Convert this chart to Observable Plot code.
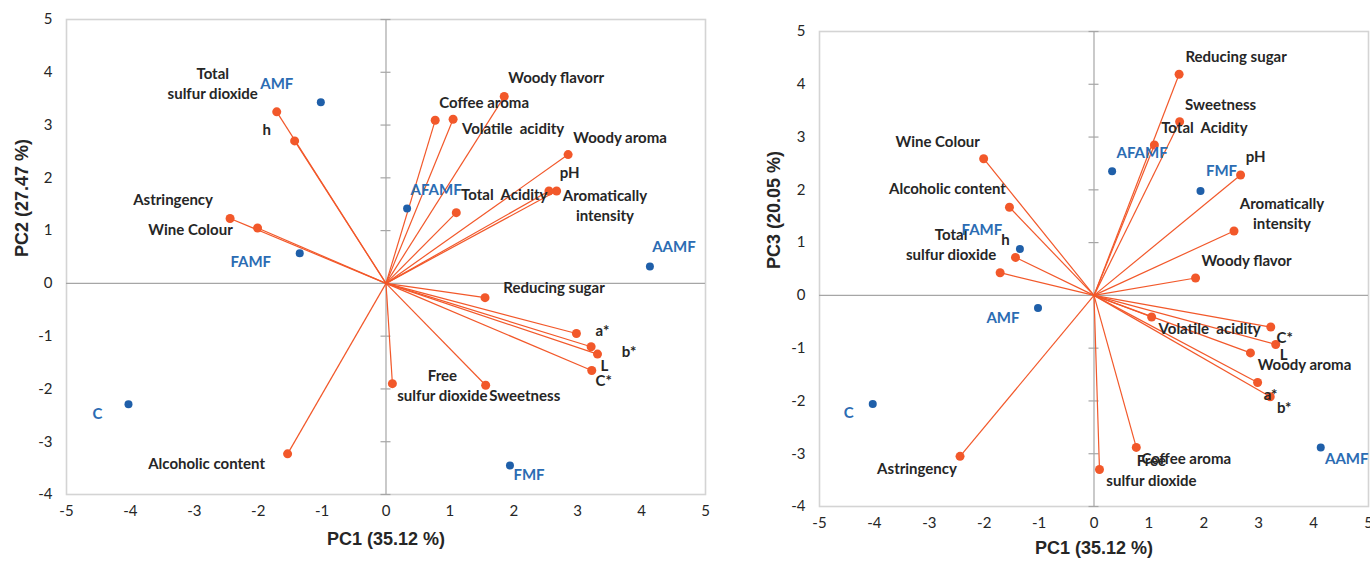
<!DOCTYPE html>
<html><head><meta charset="utf-8">
<script src="https://cdn.jsdelivr.net/npm/d3@7"></script>
<script src="https://cdn.jsdelivr.net/npm/@observablehq/plot@0.6"></script>
<style>
body{margin:0;background:#fff;width:1370px;height:562px;position:relative;overflow:hidden}
#left{position:absolute;left:0;top:0}
#right{position:absolute;left:740px;top:0}
svg{overflow:visible}
</style>
</head><body><div id="left"></div><div id="right"></div>
<script>
// ---- data ----
const variables = ["Total sulfur dioxide","h","Astringency","Wine Colour","Alcoholic content","Woody flavor","Coffee aroma","Volatile acidity","Woody aroma","pH","Total Acidity","Aromatically intensity","Reducing sugar","a*","b*","L","C*","Free sulfur dioxide","Sweetness"];
const varLabelsPC2 = ["Total\nsulfur dioxide","h","Astringency","Wine Colour","Alcoholic content","Woody flavorr","Coffee aroma","Volatile  acidity","Woody aroma","pH","Total  Acidity","Aromatically\nintensity","Reducing sugar","a*","b*","L","C*","Free\nsulfur dioxide","Sweetness"];
const varLabelsPC3 = ["Total\nsulfur dioxide","h","Astringency","Wine Colour","Alcoholic content","Woody flavor","Coffee aroma","Volatile  acidity","Woody aroma","pH","Total  Acidity","Aromatically\nintensity","Reducing sugar","a*","b*","L","C*","Free\nsulfur dioxide","Sweetness"];
const varPC1 = [-1.71,-1.43,-2.44,-2.01,-1.54,1.85,0.77,1.05,2.85,2.67,1.10,2.55,1.55,2.98,3.21,3.31,3.22,0.10,1.56];
const varPC2 = [3.25,2.70,1.23,1.05,-3.23,3.54,3.09,3.11,2.44,1.75,1.34,1.75,-0.27,-0.95,-1.20,-1.34,-1.65,-1.90,-1.93];
const varPC3 = [0.43,0.72,-3.05,2.59,1.67,0.33,-2.88,-0.41,-1.09,2.28,2.85,1.22,4.19,-1.65,-1.92,-0.93,-0.60,-3.30,3.29];

const samples = ["AMF","AFAMF","FAMF","AAMF","C","FMF"];
const samplePC1 = [-1.02,0.33,-1.35,4.13,-4.03,1.94];
const samplePC2 = [3.43,1.42,0.57,0.32,-2.29,-3.45];
const samplePC3 = [-0.24,2.35,0.88,-2.88,-2.06,1.98];

const xTicks = [-5,-4,-3,-2,-1,0,1,2,3,4,5];
const yTicks = [-4,-3,-2,-1,0,1,2,3,4,5];
const xTitle = "PC1 (35.12 %)";
const yTitlePC2 = "PC2 (27.47 %)";
const yTitlePC3 = "PC3 (20.05 %)";

// ---- label offsets (pixels, style only) ----
const varOffPC2 = {"Total sulfur dioxide":[-64,-28],"h":[-28,-11],"Astringency":[-57,-18],"Wine Colour":[-67,2],"Alcoholic content":[-81,10],"Woody flavor":[52,-18],"Coffee aroma":[49,-17],"Volatile acidity":[60,10],"Woody aroma":[52,-17],"pH":[13,-18],"Total Acidity":[48,-18],"Aromatically intensity":[56,15],"Reducing sugar":[69,-10],"a*":[26,-2],"b*":[38,5],"L":[7,12],"C*":[12,11],"Free sulfur dioxide":[50,2],"Sweetness":[39,11]};
const sampOffPC2 = {"AMF":[-44,-17],"AFAMF":[29,-17],"FAMF":[-49,10],"AAMF":[24,-18],"C":[-31,11],"FMF":[19,11]};
const varOffPC3 = {"Total sulfur dioxide":[-49,-27.5],"h":[-10,-17],"Astringency":[-43,13],"Wine Colour":[-46,-17],"Alcoholic content":[-62,-18],"Woody flavor":[51,-17],"Coffee aroma":[50,12],"Volatile acidity":[58,12],"Woody aroma":[54,12],"pH":[15,-18],"Total Acidity":[50,-17],"Aromatically intensity":[48,-17],"Reducing sugar":[57,-17],"a*":[13,13],"b*":[14,11],"L":[8,11],"C*":[14,11],"Free sulfur dioxide":[52,2],"Sweetness":[41,-17]};
const sampOffPC3 = {"AMF":[-35,12],"AFAMF":[30,-17],"FAMF":[-38,-17],"AAMF":[26,13],"C":[-24,11],"FMF":[21,-18]};

const ORANGE = "#F2582A", BLUE = "#1F5FA9", BLUE_TXT = "#2B6CB3", TXT = "#262626";
const AXIS = "#a6a6a6", FRAME = "#d4d4d4";
const FONT = "Lato, 'Open Sans', sans-serif";
const TITLE_FONT = "'Liberation Sans', Arial, sans-serif";
const LABEL_SIZE = 15, DY_SHIFT = -1.5;

function biplot({yVals, yLabels, sampY, varOff, sampOff, yTitle, width, mL, mR, mT, mB, xTitleDy, yTitleDx}) {
  const vars = variables.map((name, i) => ({name, label: yLabels[i], x: varPC1[i], y: yVals[i]}));
  const samps = samples.map((name, i) => ({name, x: samplePC1[i], y: sampY[i]}));
  const labelMarks = vars.map(d => Plot.text([d], {
    x: "x", y: "y", text: "label", dx: varOff[d.name][0], dy: varOff[d.name][1] + DY_SHIFT,
    fontFamily: FONT, fontWeight: "bold", fontSize: LABEL_SIZE, fill: TXT, lineHeight: 1.33
  }));
  const sampLabelMarks = samps.map(d => Plot.text([d], {
    x: "x", y: "y", text: "name", dx: sampOff[d.name][0], dy: sampOff[d.name][1] + DY_SHIFT,
    fontFamily: FONT, fontWeight: "bold", fontSize: LABEL_SIZE, fill: BLUE_TXT
  }));
  return Plot.plot({
    width, height: 562,
    marginLeft: mL, marginRight: mR, marginTop: mT, marginBottom: mB,
    style: {background: "#fff", overflow: "visible"},
    x: {domain: [-5, 5]},
    y: {domain: [-4, 5]},
    marks: [
      Plot.frame({stroke: FRAME, strokeWidth: 1.6}),
      Plot.ruleX([0], {stroke: AXIS, strokeWidth: 1.2}),
      Plot.ruleY([0], {stroke: AXIS, strokeWidth: 1.2}),
      Plot.ruleY(yTicks, {y: d => d, x1: 0, x2: 0, insetLeft: -5, insetRight: -5, stroke: AXIS, strokeWidth: 1.2}),
      Plot.axisX(xTicks, {tickSize: 0, tickPadding: 11, tickFormat: d => String(d), fontSize: 15, fontFamily: FONT, fill: TXT, label: null}),
      Plot.axisY(yTicks, {tickSize: 0, tickPadding: 14, tickFormat: d => String(d), fontSize: 15, fontFamily: FONT, fill: TXT, label: null}),
      Plot.text([xTitle], {frameAnchor: "bottom", dy: xTitleDy, text: d => d, fontFamily: TITLE_FONT, fontWeight: "bold", fontSize: 18, fill: TXT}),
      Plot.text([yTitle], {frameAnchor: "left", dx: yTitleDx, rotate: -90, text: d => d, fontFamily: TITLE_FONT, fontWeight: "bold", fontSize: 18, fill: TXT}),
      Plot.link(vars, {x1: () => 0, y1: () => 0, x2: "x", y2: "y", stroke: ORANGE, strokeWidth: 1.2}),
      Plot.dot(vars, {x: "x", y: "y", r: 4.5, fill: ORANGE}),
      Plot.dot(samps, {x: "x", y: "y", r: 4, fill: BLUE}),
      ...labelMarks,
      ...sampLabelMarks
    ]
  });
}

document.getElementById("left").append(biplot({
  yVals: varPC2, yLabels: varLabelsPC2, sampY: samplePC2, varOff: varOffPC2, sampOff: sampOffPC2,
  yTitle: yTitlePC2, width: 720, mL: 66, mR: 15, mT: 19, mB: 68, xTitleDy: 50, yTitleDx: -44
}));
document.getElementById("right").append(biplot({
  yVals: varPC3, yLabels: varLabelsPC3, sampY: samplePC3, varOff: varOffPC3, sampOff: sampOffPC3,
  yTitle: yTitlePC3, width: 630, mL: 79, mR: 2, mT: 31, mB: 56, xTitleDy: 47, yTitleDx: -45
}));
</script>
</body></html>
